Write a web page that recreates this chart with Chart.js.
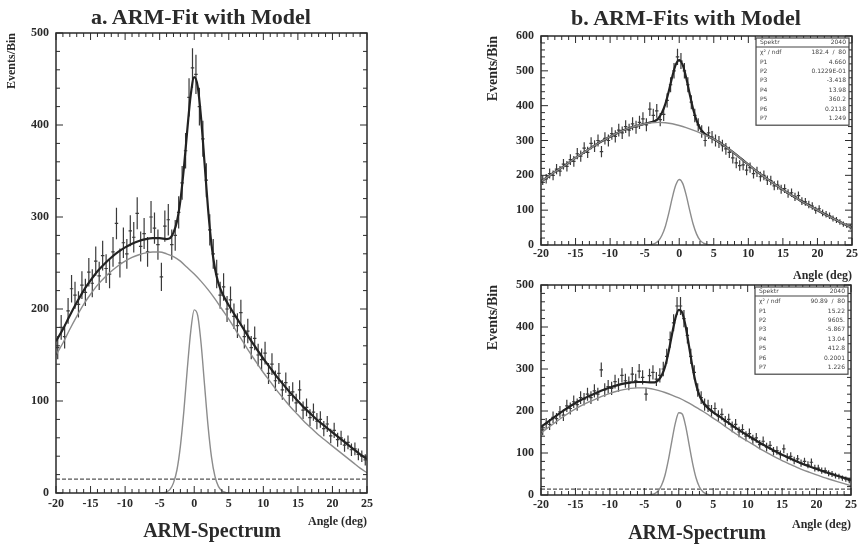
<!DOCTYPE html>
<html>
<head>
<meta charset="utf-8">
<title>ARM-Fit with Model</title>
<script src="https://cdn.jsdelivr.net/npm/chart.js@4.4.1/dist/chart.umd.min.js"></script>
<style>
  html, body { margin: 0; padding: 0; background: #fff; }
  #page { position: relative; width: 860px; height: 545px; overflow: hidden;
          font-family: 'Liberation Serif', 'DejaVu Serif', serif; color: #2a2a2a; }
  canvas { position: absolute; }
  .label { position: absolute; font-weight: bold; white-space: nowrap; transform: translate(-50%, -50%); }
  .title { font-size: 22px; }
  .spectrum { font-size: 20px; }
</style>
</head>
<body>
<div id="page">
  <canvas id="chartA" width="400" height="545" style="left:0;top:0"></canvas>
  <canvas id="chartTop" width="380" height="283" style="left:480px;top:0"></canvas>
  <canvas id="chartBot" width="380" height="275" style="left:480px;top:270px"></canvas>
  <div class="label title" style="left:201px;top:17px">a. ARM-Fit with Model</div>
  <div class="label title" style="left:686px;top:18px">b. ARM-Fits with Model</div>
  <div class="label spectrum" style="left:212px;top:530px">ARM-Spectrum</div>
  <div class="label spectrum" style="left:697px;top:532px">ARM-Spectrum</div>
</div>
<script>
// bin centres of the histograms (0.5 deg bins)
const binX = [-19.75,-19.25,-18.75,-18.25,-17.75,-17.25,-16.75,-16.25,-15.75,-15.25,
  -14.75,-14.25,-13.75,-13.25,-12.75,-12.25,-11.75,-11.25,-10.75,-10.25,
  -9.75,-9.25,-8.75,-8.25,-7.75,-7.25,-6.75,-6.25,-5.75,-5.25,
  -4.75,-4.25,-3.75,-3.25,-2.75,-2.25,-1.75,-1.25,-0.75,-0.25,
  0.25,0.75,1.25,1.75,2.25,2.75,3.25,3.75,4.25,4.75,
  5.25,5.75,6.25,6.75,7.25,7.75,8.25,8.75,9.25,9.75,
  10.25,10.75,11.25,11.75,12.25,12.75,13.25,13.75,14.25,14.75,
  15.25,15.75,16.25,16.75,17.25,17.75,18.25,18.75,19.25,19.75,
  20.25,20.75,21.25,21.75,22.25,22.75,23.25,23.75,24.25,24.75];

// sample angles of the fitted curves
const fitX = [-20,-19,-18,-17,-16,-15,-14,-13,-12,-11,-10,-9,-8,-7,-6,-5,-4,
  -3.5,-3,-2.5,-2,-1.5,-1,-0.5,0,0.5,1,1.5,2,2.5,3,3.5,4,
  5,6,7,8,9,10,11,12,13,14,15,16,17,18,19,20,21,22,23,24,25];
const bgX = [-20,-19,-18,-17,-16,-15,-14,-13,-12,-11,-10,-9,-8,-7,-6,-5,
  -4,-3,-2,-1,0,1,2,3,4,
  5,6,7,8,9,10,11,12,13,14,15,16,17,18,19,20,21,22,23,24,25];
const gaussX = [-5,-4.5,-4,-3.5,-3,-2.5,-2,-1.5,-1,-0.5,0,0.5,1,1.5,2,2.5,3,3.5,4,4.5,5];
const flatX = [-20, 25];

// panel a
const countsA = [158,180,170,198,222,215,205,226,218,240,
  228,252,236,258,244,238,262,293,250,272,
  260,285,278,304,268,282,262,300,288,270,
  235,290,297,270,280,305,337,372,430,462,
  455,420,385,340,286,260,238,215,224,200,
  210,192,182,196,170,176,158,168,150,145,
  152,130,140,122,130,112,120,106,110,98,
  112,90,93,82,88,78,80,70,75,62,
  68,58,60,52,55,47,48,42,40,36];
const totalA = [165,178,193,207,220,231,241,249,256,262,267,271,274,276,277,277,276,
  277,283,295,318,353,395,433,452,442,407,358,309,270,244,228,218,
  204,192,180,168,157,146,136,126,117,108,100,92,85,78,72,66,60,54,48,42,37];
const bgA = [150,163,178,192,205,216,226,234,241,247,252,256,259,261,262,262,
  260,257,252,245,238,230,221,211,200,
  189,177,165,153,142,131,121,111,102,93,85,77,70,63,57,51,45,39,33,27,22];
const gaussA = [0.1,0.3,1.2,3.9,11,25,51,89,135,176,199,193,162,117,73,39,18,7.2,2.5,0.7,0.2];
const flatA = [15, 15];

// panel b, upper fit
const countsTop = [186,190,205,200,218,212,232,226,245,240,
  262,255,278,266,292,284,300,268,306,300,
  320,312,330,322,340,330,348,338,352,362,
  345,390,372,385,360,375,415,460,500,540,
  528,500,460,410,372,345,326,300,322,310,
  300,296,285,276,266,250,236,228,230,215,
  222,205,210,196,200,186,185,170,172,160,
  162,148,150,138,142,126,124,116,112,100,
  104,92,88,84,76,72,66,60,56,52];
const totalTop = [182,196,210,222,236,250,263,276,289,300,311,321,330,337,343,348,353,
  356,364,380,405,442,484,518,531,517,481,435,391,358,336,323,315,
  304,292,278,263,247,231,215,200,186,172,159,146,134,122,111,100,89,79,69,59,50];
const bgTop = [182,196,210,222,236,250,263,276,289,300,311,321,330,337,343,348,
  351,352,351,348,343,337,330,322,313,
  304,292,278,263,247,231,215,200,186,172,159,146,134,122,111,100,89,79,69,59,50];
const gaussTop = [0.1,0.4,1.5,4.5,12,28,54,92,136,172,188,177,144,101,61,32,14,5.6,1.9,0.5,0.1];

// panel b, lower fit
const countsBot = [155,170,168,185,182,198,190,212,206,222,
  215,232,228,240,232,248,240,298,250,258,
  254,270,262,285,272,266,288,272,295,280,
  240,284,292,276,285,300,330,370,410,450,
  450,420,380,330,292,250,232,215,212,200,
  206,188,192,175,180,162,168,150,156,140,
  146,132,136,120,128,114,118,104,106,96,
  110,90,92,82,86,76,80,72,78,64,
  64,58,58,52,50,46,44,40,38,34];
const totalBot = [162,174,186,198,209,219,228,236,243,250,256,261,265,268,269,269,268,
  268,273,284,305,339,381,420,441,434,401,353,304,264,237,221,211,
  197,186,174,163,152,142,132,122,113,104,96,88,81,74,68,62,56,51,46,41,36];
const bgBot = [148,160,172,184,195,205,214,222,229,236,242,247,251,254,255,255,
  253,249,244,238,231,223,214,204,194,
  183,172,160,149,138,128,118,108,99,90,82,74,67,60,54,48,42,37,32,27,22];
const gaussBot = [0.1,0.3,1.1,3.4,9.6,23,47,84,129,171,196,193,164,120,76,41,19,7.9,2.8,0.8,0.2];
const flatBot = [14, 14];

// fit statistics boxes
const statsTopHeader = ['Spektr', '2040'];
const statsTopRows = [['\u03C7\u00B2 / ndf', '182.4  /  80'], ['P1', '4.660'], ['P2', '0.1229E-01'],
  ['P3', '-3.418'], ['P4', '13.98'], ['P5', '360.2'], ['P6', '0.2118'], ['P7', '1.249']];
const statsBotHeader = ['Spektr', '2040'];
const statsBotRows = [['\u03C7\u00B2 / ndf', '90.89  /  80'], ['P1', '15.22'], ['P2', '9605.'],
  ['P3', '-5.867'], ['P4', '13.04'], ['P5', '412.8'], ['P6', '0.2001'], ['P7', '1.226']];

const INK = '#2a2a2a';
const SERIF = "'Liberation Serif', 'DejaVu Serif', serif";

function pts(xs, ys) {
    return xs.map((x, i) => ({ x: x, y: ys[i] }));
}

// box round the plot with inward ROOT-like ticks on all four sides
const frameTicks = {
    id: 'frameTicks',
    afterDatasetsDraw(chart) {
        const { ctx, chartArea: a, scales: { x, y } } = chart;
        ctx.save();
        ctx.strokeStyle = INK;
        ctx.lineWidth = 1;
        ctx.beginPath();
        for (let v = x.min; v <= x.max; v += 1) {
            const px = x.getPixelForValue(v);
            const len = v % 5 === 0 ? 7 : 4;
            ctx.moveTo(px, a.bottom); ctx.lineTo(px, a.bottom - len);
            ctx.moveTo(px, a.top); ctx.lineTo(px, a.top + len);
        }
        for (let v = y.min; v <= y.max; v += 20) {
            const py = y.getPixelForValue(v);
            const len = v % 100 === 0 ? 7 : 4;
            ctx.moveTo(a.left, py); ctx.lineTo(a.left + len, py);
            ctx.moveTo(a.right, py); ctx.lineTo(a.right - len, py);
        }
        ctx.stroke();
        ctx.lineWidth = 1.5;
        ctx.strokeRect(a.left, a.top, a.right - a.left, a.bottom - a.top);
        ctx.restore();
    }
};

// vertical sqrt(N) error bars and bin-width marks for histogram datasets
const errorBars = {
    id: 'errorBars',
    beforeDatasetsDraw(chart) {
        const { ctx, scales: { x, y } } = chart;
        chart.data.datasets.forEach(ds => {
            if (!ds.errorBars) return;
            ctx.save();
            ctx.strokeStyle = ds.borderColor;
            ctx.lineWidth = 1.2;
            ctx.beginPath();
            ds.data.forEach(p => {
                const err = Math.sqrt(p.y);
                const px = x.getPixelForValue(p.x);
                const py = y.getPixelForValue(p.y);
                ctx.moveTo(px, y.getPixelForValue(p.y - err));
                ctx.lineTo(px, y.getPixelForValue(p.y + err));
                ctx.moveTo(x.getPixelForValue(p.x - 0.25), py);
                ctx.lineTo(x.getPixelForValue(p.x + 0.25), py);
            });
            ctx.stroke();
            ctx.restore();
        });
    }
};

// small statistics box in the top right corner
const statBox = {
    id: 'statBox',
    afterDraw(chart, args, opts) {
        if (!opts || !opts.rows) return;
        const { ctx, chartArea: a } = chart;
        const w = 93, headH = 9, rowH = 9.4;
        const left = a.right - w - 3, top = a.top + 2;
        const h = headH + rowH * opts.rows.length + 3;
        ctx.save();
        ctx.fillStyle = '#fff';
        ctx.fillRect(left, top, w, h);
        ctx.strokeStyle = '#444';
        ctx.lineWidth = 1.2;
        ctx.strokeRect(left, top, w, h);
        ctx.beginPath();
        ctx.moveTo(left, top + headH); ctx.lineTo(left + w, top + headH);
        ctx.stroke();
        ctx.fillStyle = '#444';
        ctx.font = "6px 'DejaVu Sans'";
        ctx.textBaseline = 'middle';
        ctx.textAlign = 'left';
        ctx.fillText(opts.header[0], left + 4, top + headH / 2);
        ctx.textAlign = 'right';
        ctx.fillText(opts.header[1], left + w - 3, top + headH / 2);
        opts.rows.forEach((r, i) => {
            const ry = top + headH + rowH * (i + 0.5) + 1;
            ctx.textAlign = 'left';
            ctx.fillText(r[0], left + 4, ry);
            ctx.textAlign = 'right';
            ctx.fillText(r[1], left + w - 3, ry);
        });
        ctx.restore();
    }
};

function buildPanel(canvasId, cfg) {
    const datasets = [
        { data: pts(binX, cfg.counts), errorBars: true, showLine: false, pointRadius: 0,
          borderColor: '#3a3a3a' },
        { data: pts(bgX, cfg.bg), borderColor: '#8c8c8c', borderWidth: 1.4, pointRadius: 0,
          cubicInterpolationMode: 'monotone' },
        { data: pts(gaussX, cfg.gauss), borderColor: '#8c8c8c', borderWidth: 1.4, pointRadius: 0,
          cubicInterpolationMode: 'monotone' },
    ];
    if (cfg.flat) {
        datasets.push({ data: pts(flatX, cfg.flat), borderColor: '#555', borderWidth: 1.2,
            borderDash: [4, 2], pointRadius: 0 });
    }
    datasets.push({ data: pts(fitX, cfg.total), borderColor: '#222', borderWidth: 2.2,
        pointRadius: 0, cubicInterpolationMode: 'monotone' });

    const tickFont = { family: SERIF, size: cfg.tickSize, weight: 'bold' };
    return new Chart(document.getElementById(canvasId), {
        type: 'line',
        data: { datasets: datasets },
        options: {
            responsive: false,
            animation: false,
            layout: { padding: cfg.padding },
            plugins: {
                legend: { display: false },
                tooltip: { enabled: false },
                statBox: cfg.stats || {},
            },
            scales: {
                x: {
                    type: 'linear', min: -20, max: 25,
                    afterFit: s => { s.height = cfg.xAxisHeight; },
                    grid: { display: false, drawTicks: false },
                    border: { display: false },
                    ticks: { stepSize: 5, autoSkip: false, maxRotation: 0, padding: cfg.xTickPad,
                             color: INK, font: tickFont },
                    title: { display: true, text: 'Angle (deg)', align: 'end', color: INK,
                             padding: 0, font: { family: SERIF, size: 12, weight: 'bold' } },
                },
                y: {
                    min: 0, max: cfg.yMax,
                    afterFit: s => { s.width = cfg.yAxisWidth; },
                    grid: { display: false, drawTicks: false },
                    border: { display: false },
                    ticks: { stepSize: 100, autoSkip: false, padding: 7, color: INK, font: tickFont },
                    title: { display: true, text: 'Events/Bin', align: 'end', color: INK,
                             padding: { top: cfg.yTitlePad, bottom: 0 },
                             font: { family: SERIF, size: cfg.yTitleSize, weight: 'bold' } },
                },
            },
        },
        plugins: [errorBars, frameTicks, statBox],
    });
}

buildPanel('chartA', {
    counts: countsA, total: totalA, bg: bgA, gauss: gaussA, flat: flatA,
    yMax: 500, padding: { top: 33, right: 33, bottom: 16, left: 0 },
    yAxisWidth: 56, xAxisHeight: 36, xTickPad: 4, tickSize: 12,
    yTitleSize: 12, yTitlePad: 5,
});

buildPanel('chartTop', {
    counts: countsTop, total: totalTop, bg: bgTop, gauss: gaussTop,
    yMax: 600, padding: { top: 36, right: 8, bottom: 0, left: 0 },
    yAxisWidth: 61, xAxisHeight: 38, xTickPad: 2, tickSize: 12,
    yTitleSize: 14, yTitlePad: 5,
    stats: { header: statsTopHeader, rows: statsTopRows },
});

buildPanel('chartBot', {
    counts: countsBot, total: totalBot, bg: bgBot, gauss: gaussBot, flat: flatBot,
    yMax: 500, padding: { top: 15, right: 8, bottom: 13, left: 0 },
    yAxisWidth: 61, xAxisHeight: 37, xTickPad: 3, tickSize: 12,
    yTitleSize: 14, yTitlePad: 5,
    stats: { header: statsBotHeader, rows: statsBotRows },
});
</script>
</body>
</html>
